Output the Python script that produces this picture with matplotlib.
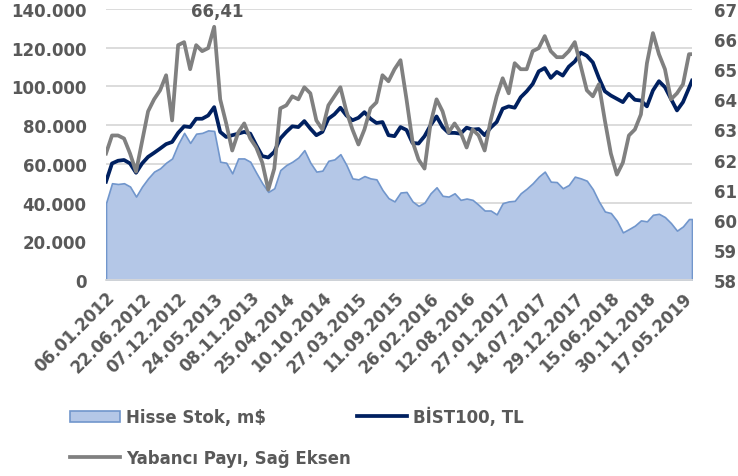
import pandas as pd
import matplotlib
matplotlib.use("Agg")
import matplotlib.pyplot as plt
from matplotlib.ticker import FuncFormatter

# sampled every 4 weeks from 06.01.2012, last point 28.06.2019
dates = list(pd.date_range("2012-01-06", "2019-06-14", freq="28D")) + [pd.Timestamp("2019-06-28")]

hisse_stok = [  # m$ (thousands)
    39.7, 50.0, 49.6, 50.0, 48.3, 43.1, 48.3, 52.5, 56.0, 57.7,
    60.6, 62.8, 70.2, 76.0, 70.8, 75.6, 76.0, 77.3, 77.0, 61.1,
    60.6, 55.1, 62.8, 62.8, 61.1, 55.4, 50.0, 45.5, 47.4, 56.8,
    59.4, 61.1, 63.3, 67.1, 60.6, 56.0, 56.5, 61.6, 62.3, 65.0,
    59.4, 52.5, 52.0, 53.7, 52.5, 52.0, 46.5, 42.3, 40.6, 45.2,
    45.5, 40.6, 38.3, 40.0, 44.8, 47.9, 43.5, 43.1, 44.8, 41.4,
    42.1, 41.4, 38.8, 35.9, 35.9, 33.9, 39.7, 40.6, 40.9, 44.8,
    47.2, 50.0, 53.4, 56.0, 50.8, 50.6, 47.4, 49.1, 53.4, 52.5,
    51.3, 46.9, 40.6, 35.4, 34.6, 30.6, 24.6, 26.3, 28.1, 30.8,
    30.3, 33.7, 34.2, 32.5, 29.4, 25.5, 27.7, 31.5, 31.5,
]
bist100 = [  # TL (thousands)
    50.8, 60.2, 61.6, 62.0, 60.2, 55.4, 60.2, 63.6, 65.7, 67.9,
    70.2, 71.3, 76.0, 79.4, 79.0, 83.3, 83.3, 85.0, 89.3, 76.5,
    73.9, 74.8, 75.6, 76.5, 75.6, 69.6, 64.0, 63.3, 66.2, 73.1,
    76.5, 79.4, 79.0, 82.1, 78.2, 74.8, 76.5, 83.3, 85.6, 89.0,
    85.0, 82.5, 83.8, 86.7, 83.3, 81.1, 81.6, 74.8, 74.3, 79.0,
    77.5, 70.8, 70.5, 74.3, 79.9, 84.5, 79.0, 76.0, 76.0, 75.6,
    78.7, 77.7, 78.0, 74.8, 78.7, 81.6, 88.5, 89.7, 89.0, 94.4,
    97.5, 101.3, 107.8, 109.5, 104.4, 107.5, 105.6, 110.2, 112.9, 117.5,
    115.8, 112.4, 104.4, 97.5, 95.3, 93.6, 91.9, 96.2, 93.1, 92.7,
    89.7, 97.9, 102.7, 99.6, 93.6, 87.6, 91.9, 99.2, 103.0,
]
yabanci_payi = [  # %
    62.2, 62.8, 62.8, 62.7, 62.2, 61.6, 62.6, 63.6, 64.0, 64.3,
    64.8, 63.3, 65.8, 65.9, 65.0, 65.8, 65.6, 65.7, 66.41, 64.0,
    63.2, 62.3, 62.9, 63.2, 62.7, 62.4, 61.9, 61.0, 61.7, 63.7,
    63.8, 64.1, 64.0, 64.4, 64.2, 63.3, 63.0, 63.8, 64.1, 64.4,
    63.6, 63.0, 62.5, 63.0, 63.7, 63.9, 64.8, 64.6, 65.0, 65.3,
    64.0, 62.6, 62.0, 61.7, 63.2, 64.0, 63.6, 62.9, 63.2, 62.9,
    62.4, 63.0, 62.8, 62.3, 63.3, 64.1, 64.7, 64.2, 65.2, 65.0,
    65.0, 65.6, 65.7, 66.1, 65.6, 65.4, 65.4, 65.6, 65.9, 65.1,
    64.3, 64.1, 64.5, 63.3, 62.2, 61.5, 61.9, 62.8, 63.0, 63.5,
    65.2, 66.2, 65.5, 65.0, 64.0, 64.2, 64.5, 65.5, 65.5,
]

tick_labels = [
    "06.01.2012", "22.06.2012", "07.12.2012", "24.05.2013", "08.11.2013",
    "25.04.2014", "10.10.2014", "27.03.2015", "11.09.2015", "26.02.2016",
    "12.08.2016", "27.01.2017", "14.07.2017", "29.12.2017", "15.06.2018",
    "30.11.2018", "17.05.2019",
]
tick_dates = pd.to_datetime(tick_labels, format="%d.%m.%Y")

TXT = "#595959"
plt.rcParams["font.family"] = ["DejaVu Sans"]
plt.rcParams["font.weight"] = "bold"
plt.rcParams["font.size"] = 12

stok = [v * 1000 for v in hisse_stok]
bist = [v * 1000 for v in bist100]

fig = plt.figure(figsize=(7.38, 4.77), dpi=100)
ax = fig.add_axes([106 / 738, 1 - 281 / 477, 586 / 738, 271 / 477])
ax2 = ax.twinx()

area = ax.fill_between(dates, stok, 0, facecolor="#b4c7e7", edgecolor="#7196cc",
                       linewidth=1.2, label="Hisse Stok, m$", zorder=2)
l1, = ax.plot(dates, bist, color="#002060", lw=2.7, label="BİST100, TL", zorder=3)
l2, = ax2.plot(dates, yabanci_payi, color="#808080", lw=2.7, label="Yabancı Payı, Sağ Eksen")

# data label on the highest foreign share
peak = yabanci_payi.index(max(yabanci_payi))
ax2.annotate("66,41", xy=(dates[peak], yabanci_payi[peak]), xytext=(2, 8),
             textcoords="offset points", ha="center", va="baseline",
             color=TXT, fontsize=12, fontweight="bold", annotation_clip=False)

ax.set_xlim(dates[0], dates[-1])
ax.set_ylim(0, 140000)
ax.set_yticks(range(0, 140001, 20000))
ax.yaxis.set_major_formatter(FuncFormatter(lambda v, p: f"{int(v):,}".replace(",", ".")))
ax.grid(axis="y", color="#d9d9d9", lw=1.3, zorder=0)
ax.set_axisbelow(True)

ax2.set_ylim(58, 67)
ax2.set_yticks(range(58, 68))

ax.set_xticks(tick_dates)
ax.set_xticklabels(tick_labels, rotation=45, ha="right", va="top",
                   rotation_mode="anchor")

for a in (ax, ax2):
    for s in a.spines.values():
        s.set_visible(False)
    a.tick_params(length=0, colors=TXT, labelsize=12)
ax.spines["bottom"].set_visible(True)
ax.spines["bottom"].set_color("#d9d9d9")
ax.spines["bottom"].set_linewidth(1.3)
ax.tick_params(axis="y", pad=14)
ax.tick_params(axis="x", pad=6)
ax2.tick_params(axis="y", pad=16)

leg = fig.legend([area, l2, l1], ["Hisse Stok, m$", "Yabancı Payı, Sağ Eksen", "BİST100, TL"],
                 ncol=2, loc="upper left", bbox_to_anchor=(70 / 738, 1 - 408 / 477),
                 frameon=False, borderpad=0, borderaxespad=0, handlelength=3.0,
                 handletextpad=0.35, columnspacing=0.4, labelspacing=1.35,
                 prop={"weight": "bold", "size": 12})
for t in leg.get_texts():
    t.set_color(TXT)

fig.savefig("out.png", dpi=100)
